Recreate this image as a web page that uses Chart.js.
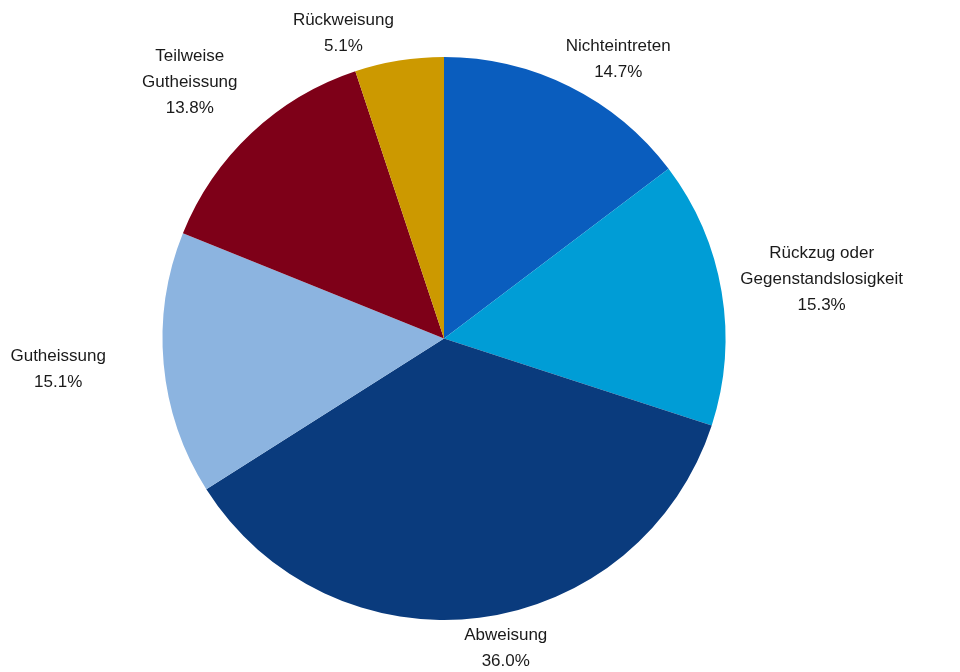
<!DOCTYPE html>
<html>
<head>
<meta charset="utf-8">
<script src="https://cdn.jsdelivr.net/npm/chart.js@4"></script>
<style>
  html, body { margin: 0; padding: 0; background: #fff; }
  #wrap { width: 960px; height: 672px; }
</style>
</head>
<body>
<div id="wrap"><canvas id="graficoEntscheide"></canvas></div>
<script>
const kategorien = [
    ['Nichteintreten'],
    ['Rückzug oder', 'Gegenstandslosigkeit'],
    ['Abweisung'],
    ['Gutheissung'],
    ['Teilweise', 'Gutheissung'],
    ['Rückweisung']
];
const anteile = [14.7, 15.3, 36.0, 15.1, 13.8, 5.1];
const farben = ['#0a5dbe', '#009dd6', '#0a3b7d', '#8cb4e0', '#7e0018', '#cc9900'];

// Verschiebung der Beschriftungen gegenüber der Standardposition
const verschiebung = [[21, 5], [10, -4], [20, -5], [-48, 2], [-22, -15], [-46, 8]];

const beschriftungen = {
    id: 'beschriftungen',
    afterDatasetsDraw(chart) {
        const ctx = chart.ctx;
        const meta = chart.getDatasetMeta(0);
        const zeilenHoehe = 26;
        ctx.save();
        ctx.font = '17px "Liberation Sans", Arial, sans-serif';
        ctx.fillStyle = '#1a1a1a';
        ctx.textAlign = 'center';
        ctx.textBaseline = 'middle';
        meta.data.forEach((bogen, i) => {
            const p = bogen.getProps(['x', 'y', 'startAngle', 'endAngle', 'outerRadius'], true);
            const mitte = (p.startAngle + p.endAngle) / 2;
            const zeilen = kategorien[i].concat([anteile[i].toFixed(1) + '%']);
            const breite = Math.max(...zeilen.map(z => ctx.measureText(z).width));
            const hoehe = zeilen.length * zeilenHoehe;
            const r = p.outerRadius + 10;
            const cx = p.x + Math.cos(mitte) * (r + breite / 2) + verschiebung[i][0];
            const cy = p.y + Math.sin(mitte) * (r + hoehe / 2) + verschiebung[i][1];
            zeilen.forEach((z, k) => {
                ctx.fillText(z, cx, cy - hoehe / 2 + zeilenHoehe * (k + 0.5));
            });
        });
        ctx.restore();
    }
};

const grafik = new Chart(document.getElementById('graficoEntscheide'), {
    type: 'pie',
    data: {
        labels: kategorien,
        datasets: [{
            data: anteile,
            backgroundColor: farben,
            borderWidth: 0
        }]
    },
    options: {
        responsive: true,
        maintainAspectRatio: false,
        animation: false,
        layout: { padding: { top: 57, bottom: 52, left: 162, right: 234 } },
        plugins: {
            legend: { display: false },
            tooltip: { enabled: false }
        }
    },
    plugins: [beschriftungen]
});
</script>
</body>
</html>
